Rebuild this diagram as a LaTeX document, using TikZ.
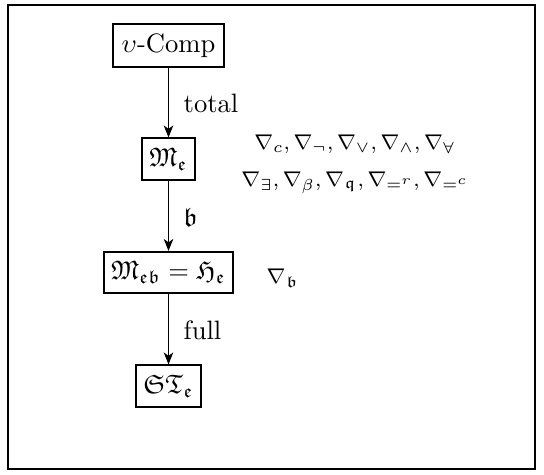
\documentclass[tikz,border=0pt]{standalone}
\usepackage{amssymb}
\usetikzlibrary{arrows.meta}
\tikzset{
  box/.style={draw, line width=0.75pt, inner xsep=2.8pt, inner ysep=0pt, minimum height=15.5pt},
  conn/.style={line width=0.4pt, -{Stealth[length=4.5pt,width=3.6pt,inset=1.3pt]}},
  lbl/.style={anchor=west, inner sep=0pt},
  small/.style={font=\fontsize{8.5}{13.9}\selectfont},
}
\begin{document}
\begin{tikzpicture}[x=0.376pt,y=-0.376pt]
\useasboundingbox (0,0) rectangle (544,474);
\draw[line width=0.6pt] (8,5) rectangle (535,469);
\node[box, minimum height=15.8pt, inner xsep=3.3pt] (comp) at (168.5,45.5) {$\upsilon$-Comp};
\node[box] (me) at (168.5,159) {$\mathfrak{M}_{\mathfrak{e}}$};
\node[box] (meb) at (168.5,272.5) {$\mathfrak{M}_{\mathfrak{eb}}=\mathfrak{H}_{\mathfrak{e}}$};
\node[box] (st) at (168.5,386) {$\mathfrak{ST}_{\mathfrak{e}}$};
\draw[conn] (comp) -- (me) node[pos=0.52, lbl, xshift=5.5pt] (l1) {total};
\draw[conn] (me) -- (meb) node[pos=0.52, lbl, xshift=5.5pt] (l2) {$\mathfrak{b}$};
\draw[conn] (meb) -- (st) node[pos=0.52, lbl, xshift=5.5pt] (l3) {full};
\node[small, align=center, inner sep=0pt] (nab) at (355,164) {$\nabla_c, \nabla_\neg, \nabla_\vee, \nabla_\wedge, \nabla_\forall$\\$\nabla_\exists, \nabla_\beta, \nabla_{\mathfrak{q}}, \nabla_{=^r}, \nabla_{=^c}$};
\node[small, lbl] (nb) at (266,278) {$\nabla_{\mathfrak{b}}$};
\end{tikzpicture}
\end{document}
